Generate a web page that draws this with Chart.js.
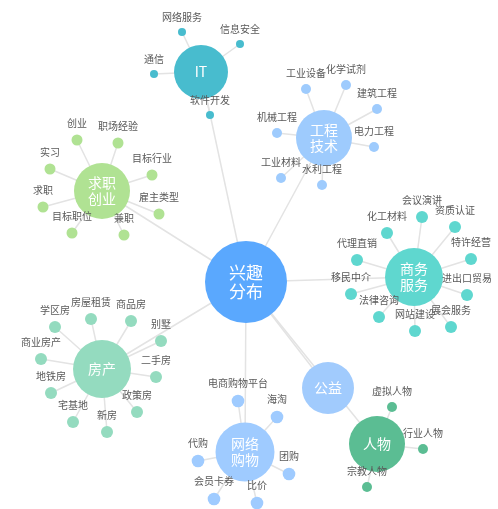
<!DOCTYPE html>
<html>
<head>
<meta charset="utf-8">
<script src="https://cdn.jsdelivr.net/npm/chart.js@4/dist/chart.umd.min.js"></script>
<style>
  html, body { margin: 0; padding: 0; background: #fff; }
  #wrap { width: 498px; height: 509px; }
</style>
</head>
<body>
<div id="wrap"><canvas id="graph"></canvas></div>
<script>
// root node
const rootName = '兴趣分布';
const rootX = 246;
const rootY = 282;

// category nodes, all hang off the root
const categories = ['IT', '求职创业', '工程技术', '商务服务', '房产', '网络购物', '公益', '人物'];
const categoryX = [201, 102, 324, 414, 102, 245, 328, 377];
const categoryY = [72, 191, 138, 277, 369, 452, 388, 444];

// leaves of each category (layout coordinates)
const itLeaves = ['网络服务', '信息安全', '通信', '软件开发'];
const itX = [182, 240, 154, 210];
const itY = [32, 44, 74, 115];

const jobLeaves = ['创业', '职场经验', '实习', '目标行业', '求职', '雇主类型', '目标职位', '兼职'];
const jobX = [77, 118, 50, 152, 43, 159, 72, 124];
const jobY = [140, 143, 169, 175, 207, 214, 233, 235];

const engLeaves = ['工业设备', '化学试剂', '建筑工程', '机械工程', '电力工程', '工业材料', '水利工程'];
const engX = [306, 346, 377, 277, 374, 281, 322];
const engY = [89, 85, 109, 133, 147, 178, 185];

const bizLeaves = ['会议演讲', '资质认证', '化工材料', '特许经营', '代理直销', '进出口贸易', '移民中介', '法律咨询', '网站建设', '展会服务'];
const bizX = [422, 455, 387, 471, 357, 467, 351, 379, 415, 451];
const bizY = [217, 227, 233, 259, 260, 295, 294, 317, 331, 327];

const houseLeaves = ['学区房', '房屋租赁', '商品房', '别墅', '商业房产', '二手房', '地铁房', '政策房', '宅基地', '新房'];
const houseX = [55, 91, 131, 161, 41, 156, 51, 137, 73, 107];
const houseY = [327, 319, 321, 341, 359, 377, 393, 412, 422, 432];

const shopLeaves = ['电商购物平台', '海淘', '代购', '团购', '会员卡券', '比价'];
const shopX = [238, 277, 198, 289, 214, 257];
const shopY = [401, 417, 461, 474, 499, 503];

const charityLeaves = [];
const charityX = [];
const charityY = [];

const peopleLeaves = ['虚拟人物', '行业人物', '宗教人物'];
const peopleX = [392, 423, 367];
const peopleY = [407, 449, 487];

const leafNames = [itLeaves, jobLeaves, engLeaves, bizLeaves, houseLeaves, shopLeaves, charityLeaves, peopleLeaves];
const leafXs = [itX, jobX, engX, bizX, houseX, shopX, charityX, peopleX];
const leafYs = [itY, jobY, engY, bizY, houseY, shopY, charityY, peopleY];

// styles
const rootColor = '#5aa8fe';
const rootRadius = 41;
const categoryColors = ['#48bcce', '#b0e293', '#9ecbfd', '#5fd7cf', '#94dbbf', '#9fcbff', '#a1cbfd', '#5bbd93'];
const categoryRadius = [27, 28, 28, 29, 29, 29.5, 26, 28];
const leafRadius = [4, 5.5, 5, 6, 6, 6.3, 5, 5];
const edgeColor = '#e3e3e3';
const fontFamily = "'Noto Sans CJK SC', 'Noto Sans', sans-serif";

// edges (drawn underneath)
const datasets = [];
categories.forEach((cat, i) => {
	datasets.push({
		type: 'scatter', showLine: true, order: 2,
		data: [{ x: rootX, y: rootY }, { x: categoryX[i], y: categoryY[i] }],
		borderColor: edgeColor, borderWidth: 1.5, pointRadius: 0
	});
	leafNames[i].forEach((leaf, j) => {
		datasets.push({
			type: 'scatter', showLine: true, order: 2,
			data: [{ x: categoryX[i], y: categoryY[i] }, { x: leafXs[i][j], y: leafYs[i][j] }],
			borderColor: edgeColor, borderWidth: 1.5, pointRadius: 0
		});
	});
});

// nodes: one dataset per category (category node + its leaves)
categories.forEach((cat, i) => {
	const pts = [{ x: categoryX[i], y: categoryY[i] }];
	leafNames[i].forEach((leaf, j) => pts.push({ x: leafXs[i][j], y: leafYs[i][j] }));
	datasets.push({
		type: 'scatter', order: 1,
		data: pts,
		names: [cat].concat(leafNames[i]),
		backgroundColor: categoryColors[i],
		borderWidth: 0,
		pointRadius: c => c.dataIndex === 0 ? categoryRadius[i] : leafRadius[i],
		pointHoverRadius: c => c.dataIndex === 0 ? categoryRadius[i] : leafRadius[i]
	});
});

datasets.push({
	type: 'scatter', order: 0,
	data: [{ x: rootX, y: rootY }],
	names: [rootName],
	isRoot: true,
	backgroundColor: rootColor,
	borderWidth: 0,
	pointRadius: rootRadius,
	pointHoverRadius: rootRadius
});

function splitName(name) {
	return name.length === 4 ? [name.slice(0, 2), name.slice(2)] : [name];
}

const nodeLabels = {
	id: 'nodeLabels',
	afterDatasetsDraw(chart) {
		const ctx = chart.ctx;
		ctx.save();
		ctx.textAlign = 'center';
		ctx.textBaseline = 'middle';
		chart.data.datasets.forEach((ds, i) => {
			if (!ds.names) return;
			const meta = chart.getDatasetMeta(i);
			meta.data.forEach((pt, j) => {
				const name = ds.names[j];
				if (ds.isRoot || j === 0) {
					const size = ds.isRoot ? 17 : 14;
					const gap = ds.isRoot ? 19 : 16;
					const lines = splitName(name);
					ctx.fillStyle = '#fff';
					ctx.font = size + 'px ' + fontFamily;
					lines.forEach((line, k) => {
						ctx.fillText(line, pt.x, pt.y + (k - (lines.length - 1) / 2) * gap);
					});
				} else {
					const r = pt.options.radius;
					ctx.fillStyle = '#595959';
					ctx.font = '10px ' + fontFamily;
					ctx.fillText(name, pt.x, pt.y - r - 11);
				}
			});
		});
		ctx.restore();
	}
};

new Chart(document.getElementById('graph').getContext('2d'), {
	type: 'scatter',
	data: { datasets: datasets },
	options: {
		responsive: true,
		maintainAspectRatio: false,
		animation: false,
		layout: { padding: 0, autoPadding: false },
		plugins: { legend: { display: false }, tooltip: { enabled: false } },
		scales: {
			x: { type: 'linear', min: 0, max: 498, display: false },
			y: { type: 'linear', min: 0, max: 509, reverse: true, display: false }
		}
	},
	plugins: [nodeLabels]
});
</script>
</body>
</html>
